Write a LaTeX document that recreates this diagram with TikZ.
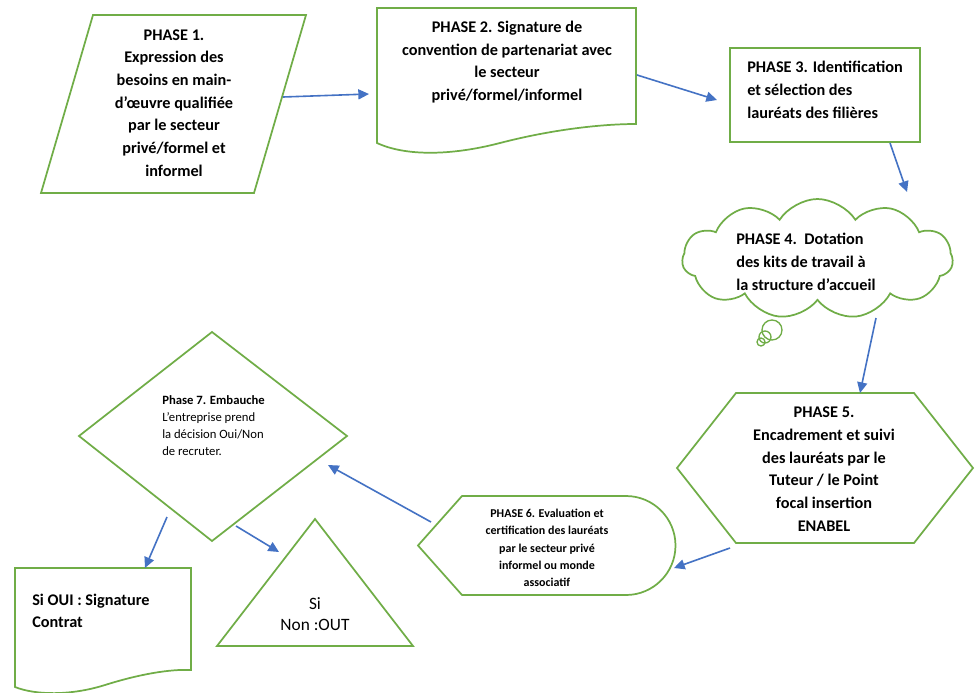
\documentclass[tikz,border=0pt]{standalone}
\usepackage{fontspec}
\setmainfont{Carlito}
\usetikzlibrary{arrows.meta,shapes.symbols}
\definecolor{gr}{HTML}{70AD47}
\definecolor{bl}{HTML}{4472C4}
\begin{document}
\begin{tikzpicture}[x=0.75pt,y=-0.75pt,
  shp/.style={draw=gr,line width=1.3pt,line join=miter},
  conn/.style={draw=bl,line width=1.2pt,-{Triangle[length=8pt,width=7.5pt]}},
  big/.style={font=\fontsize{12.2}{17}\selectfont\bfseries,inner sep=0pt},
  small/.style={font=\fontsize{9}{13}\selectfont\bfseries,inner sep=0pt},
  tiny/.style={font=\fontsize{9.5}{12.75}\selectfont,inner sep=0pt},
  reg/.style={font=\fontsize{13}{16}\selectfont,inner sep=0pt}
]
\useasboundingbox[fill=white] (0,0) rectangle (979,693);

% Phase 1 parallelogram
\draw[shp] (93,15) -- (306,15) -- (254,193) -- (41,193) -- cycle;
\node[big,align=center] (t1) at (174,103) {PHASE 1.\\Expression des\\besoins en main-\\d’œuvre qualifiée\\par le secteur\\privé/formel et\\informel};

% Phase 2 document
\draw[shp] (377,8) -- (636,8) -- (636,124) .. controls (600,124) and (550,130) .. (500,143) .. controls (450,156) and (405,156) .. (377,143) -- cycle;
\node[big,align=center] (t2) at (507,62) {PHASE 2. Signature de\\convention de partenariat avec\\le secteur\\privé/formel/informel};

% Phase 3 rectangle
\draw[shp] (730,48) rectangle (920,142);
\node[big,align=left,anchor=west] (t3) at (747,90) {PHASE 3. Identification\\et sélection des\\lauréats des filières};

% Phase 4 cloud
\node[shp,cloud,cloud puffs=11,cloud puff arc=115,aspect=2.2,minimum width=203pt,minimum height=90pt,inner sep=0pt] (c4) at (817.5,259) {};
\draw[shp,line width=1pt] (772,330) circle[radius=10];
\draw[shp,line width=1pt] (765,337) circle[radius=6];
\draw[shp,line width=1pt] (761,342) circle[radius=4];
\node[big,align=left,anchor=west] (t4) at (736,262) {PHASE 4.\ \ Dotation\\des kits de travail à\\la structure d’accueil};

% Phase 5 hexagon
\draw[shp] (677,468) -- (736,393) -- (914,393) -- (973,468) -- (914,543) -- (736,543) -- cycle;
\node[big,align=center] (t5) at (824,469) {PHASE 5.\\Encadrement et suivi\\des lauréats par le\\Tuteur / le Point\\focal insertion\\ENABEL};

% Phase 6 display
\draw[shp] (418,545.5) -- (462,496) -- (626,496) .. controls (653.3,496) and (675.5,518.2) .. (675.5,545.5) .. controls (675.5,572.8) and (653.3,595) .. (626,595) -- (462,595) -- cycle;
\node[small,align=center] (t6) at (547,548) {PHASE 6. Evaluation et\\certification des lauréats\\par le secteur privé\\informel ou monde\\associatif};

% Phase 7 diamond
\draw[shp] (212,332) -- (347,436) -- (212,541) -- (79,436) -- cycle;
\node[tiny,align=left,anchor=west] (t7) at (162,426) {\textbf{Phase 7. Embauche}\\L’entreprise prend\\la décision Oui/Non\\de recruter.};

% Triangle
\draw[shp] (315,519) -- (413,646) -- (217,646) -- cycle;
\node[reg,align=center] (tn) at (315,614) {Si\\Non :OUT};

% OUI document
\draw[shp] (15,568) -- (191,568) -- (191,670) .. controls (170,669) and (140,674) .. (105,685) .. controls (70,696) and (35,695) .. (15,687) -- cycle;
\node[big,align=left,anchor=west] (to) at (32,611) {Si OUI : Signature\\Contrat};

% connectors
\coordinate (a12s) at (283,97);  \coordinate (a12e) at (369,94);
\coordinate (a23s) at (637,75);  \coordinate (a23e) at (717,100);
\coordinate (a34s) at (890,143); \coordinate (a34e) at (907,192);
\coordinate (a45s) at (876,318); \coordinate (a45e) at (860,393);
\coordinate (a56s) at (730,548); \coordinate (a56e) at (674,568);
\coordinate (a67s) at (431,522); \coordinate (a67e) at (328,465);
\coordinate (a7os) at (167,517); \coordinate (a7oe) at (145,568);
\coordinate (a7ns) at (236,526); \coordinate (a7ne) at (279,552);
\draw[conn] (a12s) -- (a12e);
\draw[conn] (a23s) -- (a23e);
\draw[conn] (a34s) -- (a34e);
\draw[conn] (a45s) -- (a45e);
\draw[conn] (a56s) -- (a56e);
\draw[conn] (a67s) -- (a67e);
\draw[conn] (a7os) -- (a7oe);
\draw[conn] (a7ns) -- (a7ne);
\end{tikzpicture}
\end{document}
